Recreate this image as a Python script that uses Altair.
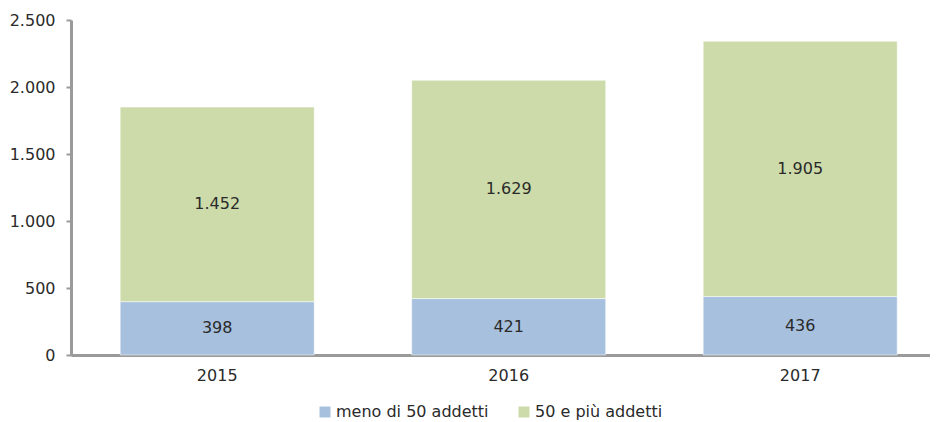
import altair as alt
import pandas as pd

years = ["2015", "2016", "2017"]
small = [398, 421, 436]
large = [1452, 1629, 1905]
series = ["meno di 50 addetti", "50 e più addetti"]
colors = ["#a7c0de", "#ccdba9"]

rows = []
for y, s, l in zip(years, small, large):
    rows.append({"anno": y, "serie": series[0], "valore": s, "ord": 0})
    rows.append({"anno": y, "serie": series[1], "valore": l, "ord": 1})
df = pd.DataFrame(rows)

FONT = "DejaVu Sans"
FS = 16
TXT = "#2a2a2a"

base = alt.Chart(df).transform_stack(
    stack="valore", groupby=["anno"], as_=["y0", "y1"], sort=[alt.SortField("ord")]
).transform_calculate(
    ymid="(datum.y0 + datum.y1) / 2",
    lab="replace(format(datum.valore, ','), ',', '.')",
)

x = alt.X(
    "anno:N",
    title=None,
    scale=alt.Scale(paddingInner=0.3345, paddingOuter=0.1407, align=0.6),
    axis=alt.Axis(labelAngle=0, ticks=False, domainColor="#9a9a9a", domainWidth=3,
                  labelFont=FONT, labelFontSize=FS, labelColor=TXT, labelPadding=12),
)

bars = base.mark_bar(stroke="white", strokeWidth=0.5).encode(
    x=x,
    y=alt.Y("y0:Q", title=None,
            scale=alt.Scale(domain=[0, 2500], nice=False),
            axis=alt.Axis(values=[0, 500, 1000, 1500, 2000, 2500], grid=False,
                          domainColor="#9a9a9a", domainWidth=3,
                          tickColor="#9a9a9a", tickWidth=2, tickSize=5,
                          labelExpr="replace(format(datum.value, ','), ',', '.')",
                          labelFont=FONT, labelFontSize=FS, labelColor=TXT,
                          labelPadding=11)),
    y2="y1:Q",
    color=alt.Color("serie:N", title=None,
                    scale=alt.Scale(domain=series, range=colors),
                    legend=alt.Legend(orient="none", direction="horizontal",
                                      legendX=246, legendY=384,
                                      symbolType="square", symbolSize=121,
                                      symbolStrokeWidth=0, labelFont=FONT,
                                      labelFontSize=FS, labelColor=TXT,
                                      labelOffset=3,
                                      columnPadding=27, labelLimit=300)),
)

texts = base.mark_text(font=FONT, fontSize=FS, color=TXT).encode(
    x=alt.X("anno:N", title=None),
    y=alt.Y("ymid:Q"),
    text="lab:N",
)

chart = alt.layer(bars, texts).properties(
    width=859, height=335,
    autosize=alt.AutoSizeParams(type="none"),
    padding={"left": 63, "top": 12, "right": 0, "bottom": 67},
).configure_view(stroke=None)

chart.save("out.html", embed_options={"renderer": "svg", "actions": False})
